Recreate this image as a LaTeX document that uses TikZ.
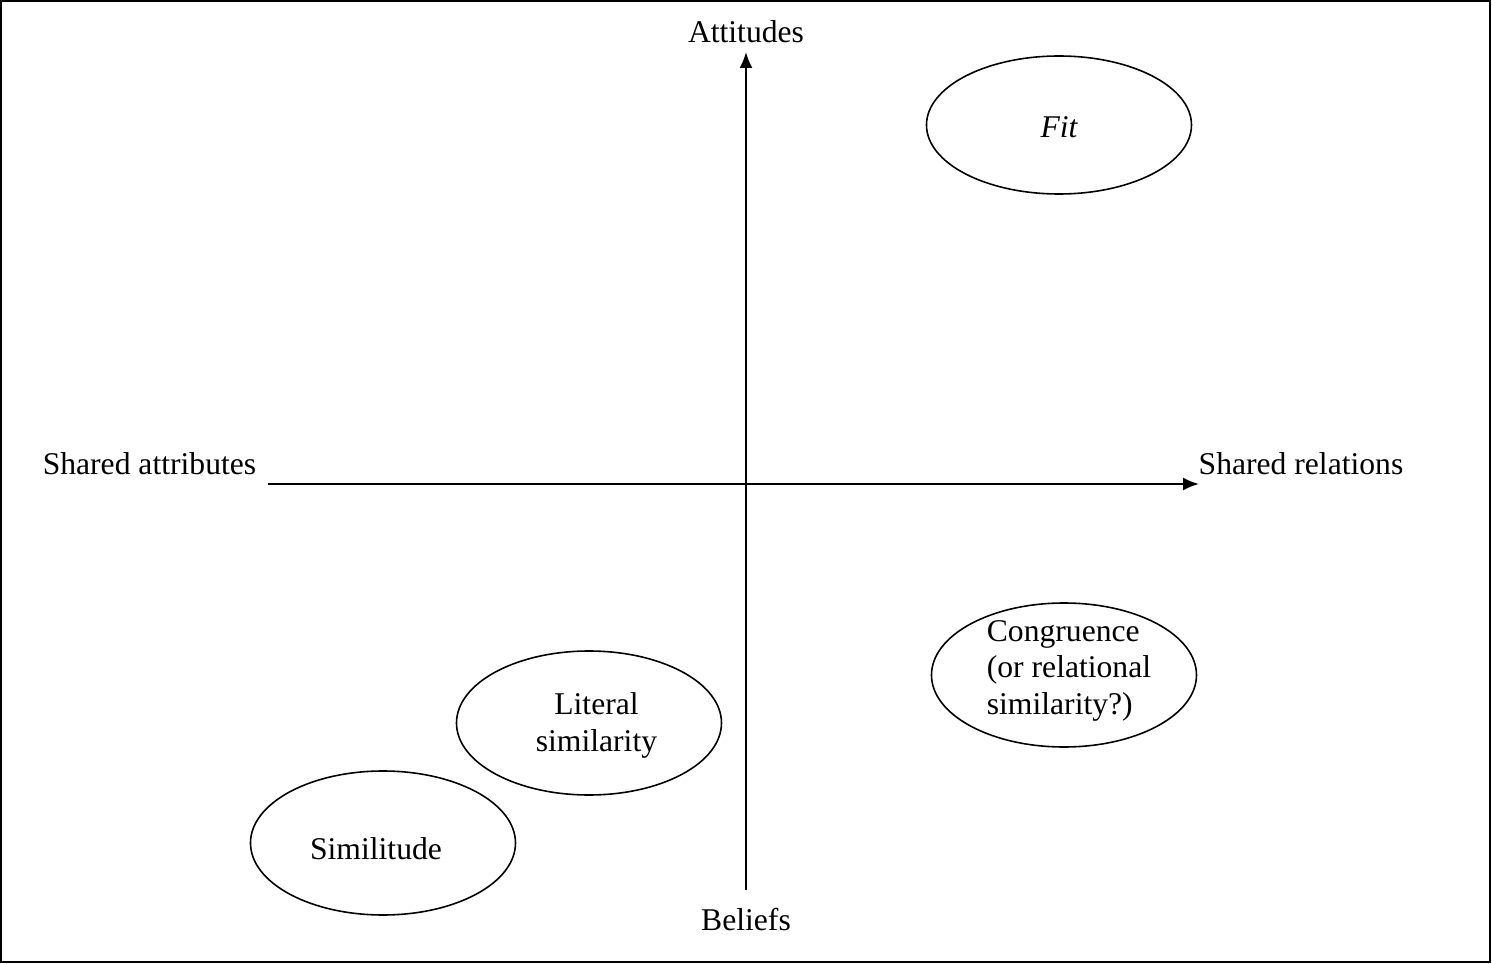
\documentclass[tikz,border=0pt]{standalone}
\usepackage{fontspec}
\setmainfont{Liberation Serif}
\usetikzlibrary{positioning,shapes,arrows.meta}

\begin{document}
\begin{tikzpicture}[line width=1.1pt]
\tikzstyle{every node}=[font=\fontsize{18}{21}\selectfont]
\tikzstyle{region}=[ellipse,draw,line width=0.9pt,inner sep=0pt,minimum width=5.3cm,minimum height=2.88cm]
\tikzstyle{axis}=[-{Latex[length=3.2mm,width=2.6mm]}]
\useasboundingbox (-14.92,-9.60) rectangle (14.92,9.68);
\draw (-14.90,-9.56) rectangle (14.88,9.66);
% the two axes
\coordinate (bot) at (0,-8.12);
\coordinate (top) at (0,8.64);
\coordinate (left) at (-9.56,0);
\coordinate (right) at (9.06,0);
\draw[axis] (bot) -- (top);
\draw[axis] (left) -- (right);
\node (att) at (0,9.04) {Attitudes};
\node (bel) at (0,-8.72) {Beliefs};
\node (sattr) at (-11.93,0.40) {Shared attributes};
\node (srel) at (11.10,0.40) {Shared relations};
% the regions
\node[region,minimum height=2.76cm,text height=0.51cm,text depth=0cm] (fit) at (6.26,7.18) {\itshape Fit};
\node[region,align=left,inner ysep=-0.08cm] (cong) at (6.36,-3.82) {\hspace*{0.2cm}Congruence\\\hspace*{0.2cm}(or relational\\\hspace*{0.2cm}similarity?)\rule[-0.3cm]{0pt}{0pt}};
\node[region,align=center] (lit) at (-3.14,-4.78) {\hspace*{0.3cm}\rule{0pt}{0.55cm}Literal\\\hspace*{0.3cm}similarity};
\node[region,text height=0.67cm,text depth=0cm] (simil) at (-7.26,-7.18) {\hspace*{-0.28cm}Similitude};
\end{tikzpicture}
\end{document}
